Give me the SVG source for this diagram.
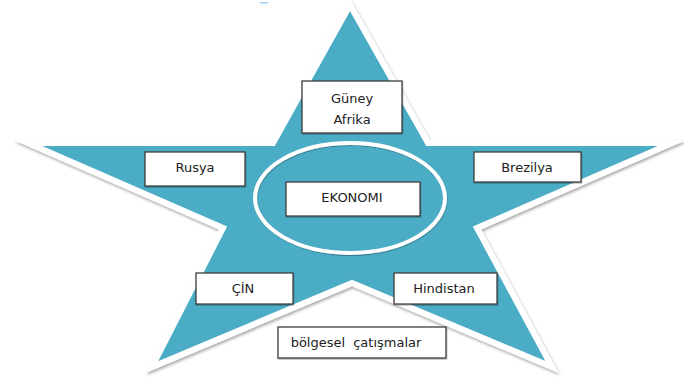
<svg xmlns="http://www.w3.org/2000/svg" width="684" height="383" viewBox="0 0 684 383">
<defs>
<filter id="sh" x="-10%" y="-10%" width="120%" height="120%">
<feDropShadow dx="1" dy="2" stdDeviation="1.5" flood-color="#000" flood-opacity="0.35"/>
</filter>
<filter id="bsh" x="-10%" y="-10%" width="120%" height="130%">
<feDropShadow dx="0.5" dy="1" stdDeviation="0.6" flood-color="#000" flood-opacity="0.3"/>
</filter>
</defs>
<style>
.box{fill:#fff;stroke:#3f3f3f;stroke-width:1.3;filter:url(#bsh)}
.t{font-family:"DejaVu Sans",sans-serif;font-size:13px;fill:#222;text-anchor:middle}
</style>
<rect width="684" height="383" fill="#fff"/>
<rect x="260" y="2" width="8" height="1.5" fill="#9fd0f5"/>
<g id="star">
<polygon points="350,5 428,143 672,143 477,228 552,367 352,283 152,367 223,228 28,143 273,143" fill="#4bacc6" stroke="#fff" stroke-width="6" stroke-linejoin="miter" stroke-miterlimit="10" filter="url(#sh)"/>
</g>
<g id="ellipse">
<ellipse cx="350" cy="198" rx="95" ry="55" fill="none" stroke="#fff" stroke-width="4" filter="url(#bsh)"/>
</g>
<g id="guney-afrika">
<rect class="box" x="302" y="81" width="100" height="52"/>
<text class="t" x="352" y="103">Güney</text>
<text class="t" x="352" y="124">Afrika</text>
</g>
<g id="rusya">
<rect class="box" x="145" y="152" width="100" height="34"/>
<text class="t" x="195" y="172">Rusya</text>
</g>
<g id="brezilya">
<rect class="box" x="474" y="152" width="107" height="30"/>
<text class="t" x="527" y="172">Brezilya</text>
</g>
<g id="ekonomi">
<rect class="box" x="286" y="182" width="134" height="34"/>
<text class="t" x="352" y="202">EKONOMI</text>
</g>
<g id="cin">
<rect class="box" x="196" y="273" width="97" height="31"/>
<text class="t" x="243" y="293">ÇİN</text>
</g>
<g id="hindistan">
<rect class="box" x="394" y="273" width="103" height="31"/>
<text class="t" x="444" y="293">Hindistan</text>
</g>
<g id="bolgesel">
<rect class="box" x="278" y="327" width="168" height="31"/>
<text class="t" x="356" y="347" word-spacing="4">bölgesel çatışmalar</text>
</g>
<g id="connectors"></g>
</svg>
